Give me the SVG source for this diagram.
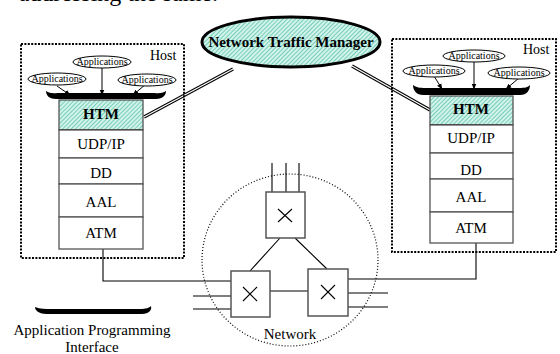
<svg xmlns="http://www.w3.org/2000/svg" width="560" height="354" viewBox="0 0 560 354">
<defs>
<pattern id="hatch" width="3" height="3" patternUnits="userSpaceOnUse" patternTransform="rotate(45)">
<rect width="3" height="3" fill="#d2f3ea"/>
<line x1="0" y1="0" x2="0" y2="3" stroke="#4fbfa6" stroke-width="1.4"/>
</pattern>
<marker id="ah" viewBox="0 0 10 10" refX="9" refY="5" markerWidth="6" markerHeight="6" orient="auto" markerUnits="userSpaceOnUse">
<path d="M0,1 L10,5 L0,9 Z" fill="#000"/>
</marker>
</defs>
<style>
text{font-family:"Liberation Serif","Times New Roman",serif;fill:#000}
.lbl{font-size:15px;text-anchor:middle}
.app{font-size:10px;text-anchor:middle}
.host{fill:none;stroke:#000;stroke-width:2;stroke-dasharray:2 1.4}
.row{fill:#fff;stroke:#555;stroke-width:1.3}
.htm{fill:url(#hatch);stroke:#555;stroke-width:1.3}
.appe{fill:#fff;stroke:#000;stroke-width:1}
.api{fill:#000}
.sw{fill:#fff;stroke:#555;stroke-width:1.5}
.ln{fill:none;stroke:#000;stroke-width:1.1}
.dbl{stroke:#000;stroke-width:3.2;fill:none}
.dbli{stroke:#fff;stroke-width:1.2;fill:none}
.arr{stroke:#000;stroke-width:1;marker-end:url(#ah)}
</style>
<rect width="560" height="354" fill="#fff"/>
<text x="218" y="1" style="font-size:24px;text-anchor:end">addressing the same.</text>

<g id="network">
<ellipse cx="290" cy="260" rx="88" ry="86" fill="none" stroke="#000" stroke-width="1.2" stroke-dasharray="1 2"/>
<text class="lbl" x="290" y="339">Network</text>
</g>

<g id="connectors">
<path class="dbl" d="M233,69 L144,117"/><path class="dbli" d="M233,69 L144,117"/>
<path class="dbl" d="M352,66 L430,110"/><path class="dbli" d="M352,66 L430,110"/>
<path class="ln" d="M103,249 V281 H231"/>
<path class="ln" d="M476,243 V279 H348"/>
<path class="ln" d="M193,296 H231 M193,309 H231"/>
<path class="ln" d="M348,293 H388 M348,307 H388"/>
<path class="ln" d="M270,291 H308"/>
<path class="ln" d="M280,238 L250,271 M295,238 L327,269"/>
<path class="ln" d="M272,163 V192 M286,163 V192 M299,163 V192"/>
<line class="arr" x1="57" y1="86" x2="70" y2="95"/>
<line class="arr" x1="102" y1="67" x2="102" y2="95"/>
<line class="arr" x1="146" y1="84" x2="133" y2="95"/>
<line class="arr" x1="434" y1="76" x2="442" y2="89"/>
<line class="arr" x1="474" y1="61" x2="474" y2="89"/>
<line class="arr" x1="519" y1="78" x2="506" y2="89"/>
</g>

<g id="switch-top">
<rect class="sw" x="266" y="192" width="39" height="46"/>
<path class="ln" d="M278,209 L292,222 M292,209 L278,222"/>
</g>
<g id="switch-left">
<rect class="sw" x="231" y="271" width="39" height="46"/>
<path class="ln" d="M243,287 L257,301 M257,287 L243,301"/>
</g>
<g id="switch-right">
<rect class="sw" x="308" y="269" width="40" height="47"/>
<path class="ln" d="M321,285 L335,299 M335,285 L321,299"/>
</g>

<g id="ntm">
<ellipse cx="291" cy="42" rx="89" ry="25" fill="url(#hatch)" stroke="#000" stroke-width="3"/>
<text class="lbl" x="291" y="47" font-weight="bold">Network Traffic Manager</text>
</g>

<g id="host-left">
<rect class="host" x="21" y="44" width="163" height="214"/>
<text x="150" y="60" style="font-size:14px">Host</text>
<rect class="htm" x="59" y="100" width="84" height="30"/>
<line x1="59" y1="130" x2="143" y2="130" stroke="#444" stroke-width="2"/>
<rect class="row" x="59" y="130" width="84" height="28"/>
<rect class="row" x="59" y="158" width="84" height="26"/>
<rect class="row" x="59" y="184" width="84" height="33"/>
<rect class="row" x="59" y="217" width="84" height="32"/>
<text class="lbl" x="101" y="119" font-weight="bold">HTM</text>
<text class="lbl" x="101" y="149">UDP/IP</text>
<text class="lbl" x="101" y="178">DD</text>
<text class="lbl" x="101" y="207">AAL</text>
<text class="lbl" x="101" y="238">ATM</text>
<path class="api" d="M46,91 C50,94 54,93 62,93 L150,93 C158,93 162,94 166,91 C166,95 163,99 156,99 L56,99 C50,99 46,96 46,91 Z"/>
<ellipse class="appe" cx="57" cy="79" rx="29" ry="6"/>
<text class="app" x="57" y="82">Applications</text>
<ellipse class="appe" cx="102" cy="62" rx="29" ry="6"/>
<text class="app" x="102" y="65">Applications</text>
<ellipse class="appe" cx="147" cy="80" rx="29" ry="6"/>
<text class="app" x="147" y="83">Applications</text>
</g>

<g id="host-right">
<rect class="host" x="392" y="39" width="164" height="213"/>
<text x="523" y="54" style="font-size:14px">Host</text>
<rect class="htm" x="430" y="96" width="83" height="29"/>
<line x1="430" y1="125" x2="513" y2="125" stroke="#444" stroke-width="2"/>
<rect class="row" x="430" y="125" width="83" height="28"/>
<rect class="row" x="430" y="153" width="83" height="26"/>
<rect class="row" x="430" y="179" width="83" height="33"/>
<rect class="row" x="430" y="212" width="83" height="31"/>
<text class="lbl" x="471" y="114" font-weight="bold">HTM</text>
<text class="lbl" x="471" y="143">UDP/IP</text>
<text class="lbl" x="471" y="175">DD</text>
<text class="lbl" x="471" y="202">AAL</text>
<text class="lbl" x="471" y="233">ATM</text>
<path class="api" d="M413,85 C417,88 421,88 429,88 L516,88 C524,88 527,88 530,85 C530,90 527,95 520,95 L423,95 C417,95 413,91 413,85 Z"/>
<ellipse class="appe" cx="434" cy="71" rx="31" ry="6"/>
<text class="app" x="434" y="74">Applications</text>
<ellipse class="appe" cx="474" cy="56" rx="31" ry="6"/>
<text class="app" x="474" y="59">Applications</text>
<ellipse class="appe" cx="519" cy="73" rx="31" ry="6"/>
<text class="app" x="519" y="76">Applications</text>
</g>

<g id="legend">
<path class="api" d="M35,307 C40,309 45,309 52,309 L140,309 C146,309 149,308 151,306 C152,310 149,314 142,314 L46,314 C40,314 35,311 35,307 Z"/>
<text class="lbl" x="92" y="335">Application Programming</text>
<text class="lbl" x="92" y="352">Interface</text>
</g>
</svg>
